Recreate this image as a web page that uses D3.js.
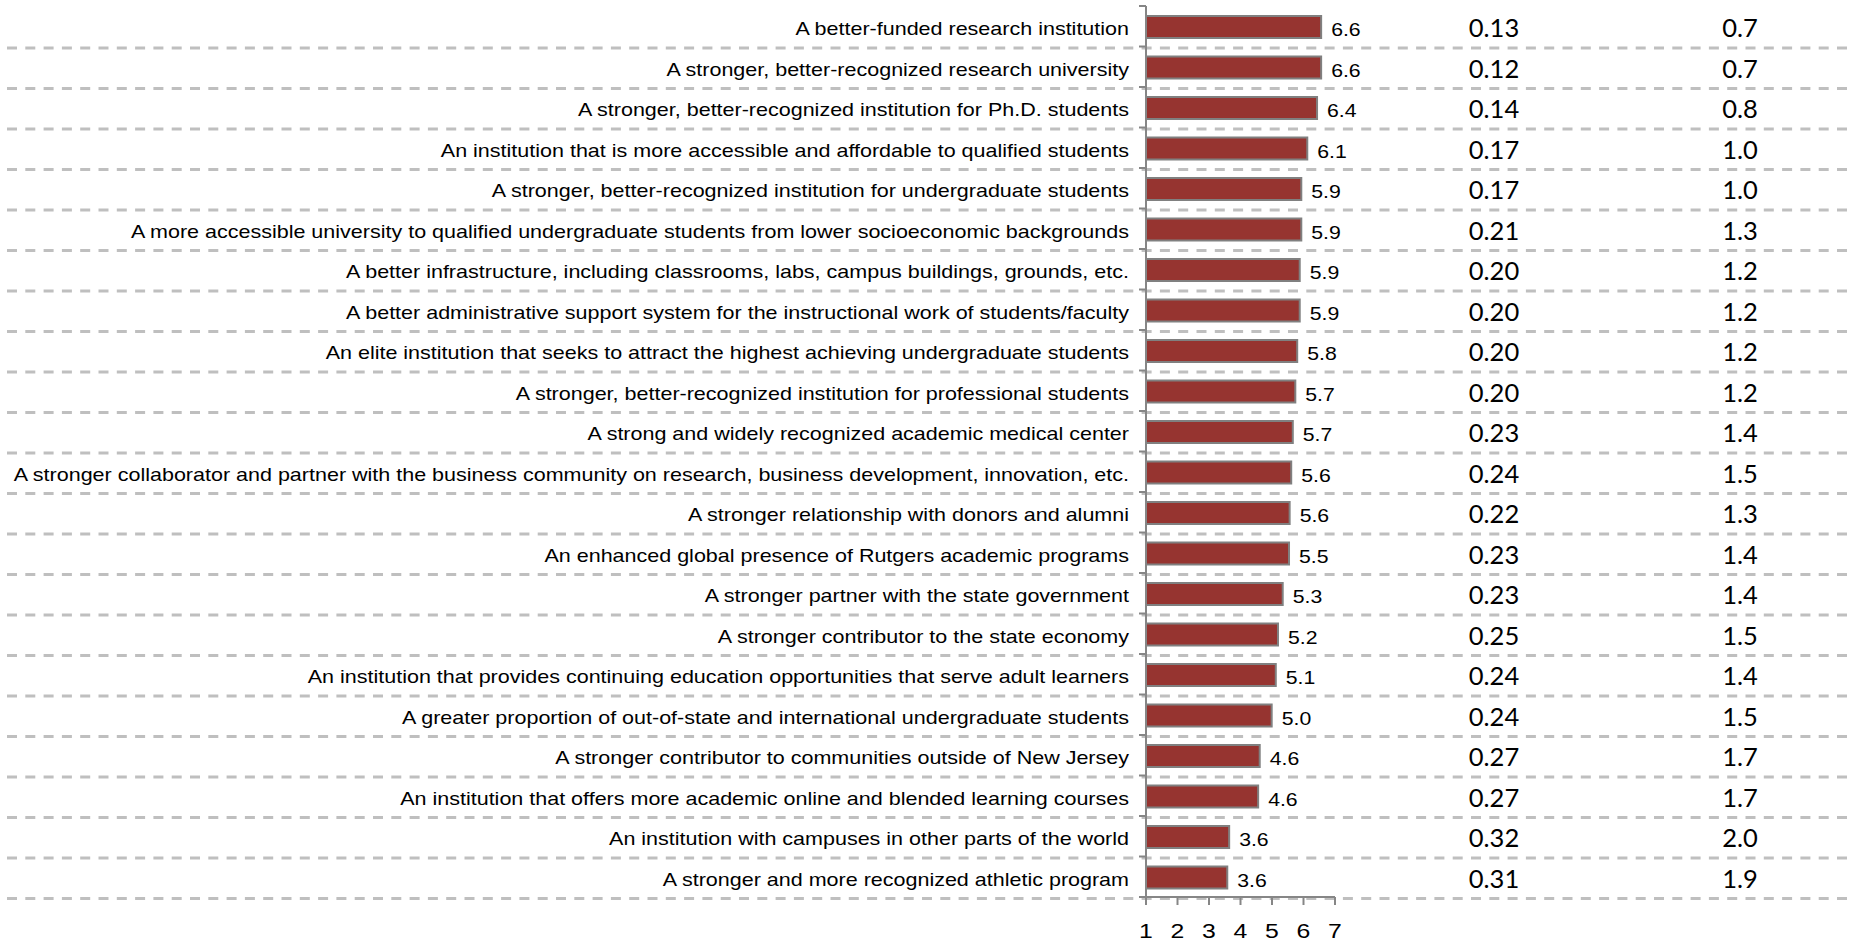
<!DOCTYPE html>
<html>
<head>
<meta charset="utf-8">
<script src="https://cdn.jsdelivr.net/npm/d3@7"></script>
<style>
  html, body { margin: 0; padding: 0; background: #fff; }
  svg { display: block; }
</style>
</head>
<body>
<svg id="chart" width="1850" height="944"></svg>
<script>
const categories = [
  "A better-funded research institution",
  "A stronger, better-recognized research university",
  "A stronger, better-recognized institution for Ph.D. students",
  "An institution that is more accessible and affordable to qualified students",
  "A stronger, better-recognized institution for undergraduate students",
  "A more accessible university to qualified undergraduate students from lower socioeconomic backgrounds",
  "A better infrastructure, including classrooms, labs, campus buildings, grounds, etc.",
  "A better administrative support system for the instructional work of students/faculty",
  "An elite institution that seeks to attract the highest achieving undergraduate students",
  "A stronger, better-recognized institution for professional students",
  "A strong and widely recognized academic medical center",
  "A stronger collaborator and partner with the business community on research, business development, innovation, etc.",
  "A stronger relationship with donors and alumni",
  "An enhanced global presence of Rutgers academic programs",
  "A stronger partner with the state government",
  "A stronger contributor to the state economy",
  "An institution that provides continuing education opportunities that serve adult learners",
  "A greater proportion of out-of-state and international undergraduate students",
  "A stronger contributor to communities outside of New Jersey",
  "An institution that offers more academic online and blended learning courses",
  "An institution with campuses in other parts of the world",
  "A stronger and more recognized athletic program"
];
const means = [6.56, 6.56, 6.43, 6.12, 5.93, 5.93, 5.88, 5.88, 5.80, 5.74, 5.66,
               5.61, 5.56, 5.54, 5.34, 5.19, 5.12, 4.99, 4.61, 4.56, 3.64, 3.58];
const colB = ["0.13","0.12","0.14","0.17","0.17","0.21","0.20","0.20","0.20","0.20","0.23",
              "0.24","0.22","0.23","0.23","0.25","0.24","0.24","0.27","0.27","0.32","0.31"];
const colC = ["0.7","0.7","0.8","1.0","1.0","1.3","1.2","1.2","1.2","1.2","1.4",
              "1.5","1.3","1.4","1.4","1.5","1.4","1.5","1.7","1.7","2.0","1.9"];
const xTicks = [1, 2, 3, 4, 5, 6, 7];

const svg = d3.select("#chart");
const W = 1850;
const sx = 1.18;   // horizontal stretch of the original rendering
const sxCat = 1.195;

const x = d3.scaleLinear().domain([1, 7]).range([1146, 1335]);
const y = d3.scaleBand().domain(categories).range([6, 897]).paddingInner(0).paddingOuter(0);
const step = y.step();
const barH = 22;

// dashed row separators
const gridG = svg.append("g");
categories.forEach((c, i) => {
  const yy = y(c) + step + 1.5;
  gridG.append("line")
    .attr("x1", 7).attr("x2", W - 3)
    .attr("y1", yy).attr("y2", yy)
    .attr("stroke", "#bfbfbf")
    .attr("stroke-width", 3)
    .attr("stroke-dasharray", "10,8.3");
});

// bars
svg.append("g").selectAll("rect")
  .data(categories)
  .join("rect")
  .attr("x", x(1))
  .attr("y", d => y(d) + step / 2 + 0.75 - barH / 2)
  .attr("width", (d, i) => x(means[i]) - x(1))
  .attr("height", barH)
  .attr("fill", "#963430")
  .attr("stroke", "#808080")
  .attr("stroke-width", 2);

// category labels
svg.append("g").selectAll("text")
  .data(categories)
  .join("text")
  .attr("transform", d => `translate(1129,${y(d) + step / 2 + 8.75}) scale(${sxCat},1)`)
  .attr("text-anchor", "end")
  .attr("font-family", "'Liberation Sans', Arial, sans-serif")
  .attr("font-size", 18)
  .attr("fill", "#000")
  .text(d => d);

// value labels
const fmt = d3.format(".1f");
svg.append("g").selectAll("text")
  .data(categories)
  .join("text")
  .attr("transform", (d, i) => `translate(${x(means[i]) + 10},${y(d) + step / 2 + 10}) scale(${sx},1)`)
  .attr("font-family", "'Liberation Sans', Arial, sans-serif")
  .attr("font-size", 18)
  .attr("fill", "#000")
  .text((d, i) => fmt(means[i]));

// right-hand columns
const colGB = svg.append("g");
categories.forEach((c, i) => {
  const by = y(c) + step / 2 + 10.8;
  colGB.append("text")
    .attr("x", 1494).attr("y", by)
    .attr("text-anchor", "middle")
    .attr("font-family", "Lato, 'Open Sans', sans-serif")
    .attr("font-size", 25.5)
    .attr("fill", "#000")
    .text(colB[i]);
  colGB.append("text")
    .attr("x", 1740).attr("y", by)
    .attr("text-anchor", "middle")
    .attr("font-family", "Lato, 'Open Sans', sans-serif")
    .attr("font-size", 25.5)
    .attr("fill", "#000")
    .text(colC[i]);
});

// vertical category axis
const axisColor = "#868686";
const yAxisG = svg.append("g");
yAxisG.append("line")
  .attr("x1", x(1)).attr("x2", x(1))
  .attr("y1", 6).attr("y2", 897)
  .attr("stroke", axisColor).attr("stroke-width", 2);
const bounds = [y(categories[0])].concat(categories.map(c => y(c) + step));
yAxisG.selectAll("line.tk")
  .data(bounds)
  .join("line")
  .attr("class", "tk")
  .attr("x1", x(1) - 7).attr("x2", x(1))
  .attr("y1", d => d).attr("y2", d => d)
  .attr("stroke", axisColor).attr("stroke-width", 2);

// horizontal value axis
const xAxisG = svg.append("g").attr("transform", "translate(0,897)");
xAxisG.append("line")
  .attr("x1", x(1)).attr("x2", x(7))
  .attr("y1", 0).attr("y2", 0)
  .attr("stroke", axisColor).attr("stroke-width", 2);
xAxisG.selectAll("line.tk")
  .data(xTicks)
  .join("line")
  .attr("class", "tk")
  .attr("x1", d => x(d)).attr("x2", d => x(d))
  .attr("y1", 0).attr("y2", 8)
  .attr("stroke", axisColor).attr("stroke-width", 2);
xAxisG.selectAll("text")
  .data(xTicks)
  .join("text")
  .attr("transform", d => `translate(${x(d)},41) scale(${sx},1)`)
  .attr("text-anchor", "middle")
  .attr("font-family", "'Liberation Sans', Arial, sans-serif")
  .attr("font-size", 21)
  .attr("fill", "#000")
  .text(d => d);
</script>
</body>
</html>
